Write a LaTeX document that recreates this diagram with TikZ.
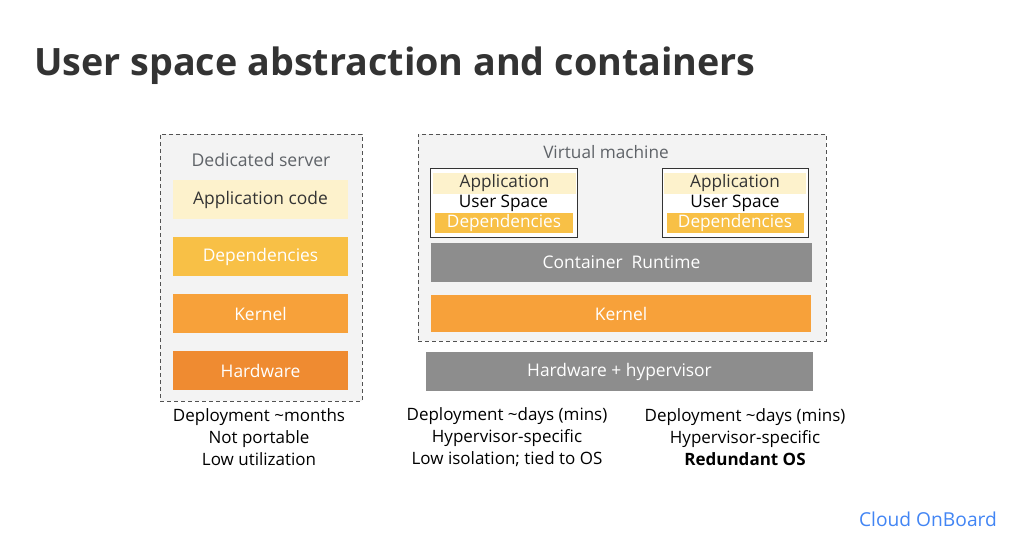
\documentclass[tikz,border=0pt]{standalone}
\usepackage{fontspec}
\setmainfont{Open Sans}
\newfontfamily\titlefont{Open Sans}
\usetikzlibrary{positioning}
\definecolor{ink}{HTML}{333333}
\definecolor{labelgray}{HTML}{5F6368}
\definecolor{panel}{HTML}{F3F3F3}
\definecolor{cream}{HTML}{FDF2CC}
\definecolor{amber}{HTML}{F8C046}
\definecolor{orangeA}{HTML}{F7A13A}
\definecolor{orangeB}{HTML}{EF8B31}
\definecolor{slate}{HTML}{8D8D8D}
\definecolor{gblue}{HTML}{4285F4}
\tikzset{
  layer/.style={rectangle, inner sep=0pt, draw=none, font=\fontsize{17.4}{20}\selectfont},
  frame/.style={rectangle, inner sep=0pt, draw=ink!85, fill=panel, line width=0.9pt, dash pattern=on 4pt off 3pt},
  cbox/.style={rectangle, inner sep=0pt, draw=ink, fill=white, line width=0.8pt},
  band/.style={rectangle, inner sep=0pt, font=\fontsize{17.2}{20}\selectfont},
  note/.style={align=center, text=black, font=\fontsize{17}{22}\selectfont},
}
\begin{document}
\begin{tikzpicture}[x=1pt,y=-1pt]
\useasboundingbox[fill=white] (0,0) rectangle (1016,551);

% title
\node[anchor=base west, inner sep=0pt, text=ink, font=\titlefont\bfseries\fontsize{37.7}{42}\selectfont] (title) at (34,75) {User space abstraction and containers};

% dedicated server column
\node[frame, minimum width=202pt, minimum height=267pt] (ds) at (261,267.5) {};
\node[text=labelgray, font=\fontsize{17.6}{20}\selectfont] (dslabel) at (261,160) {Dedicated server};
\node[layer, fill=cream, text=ink, minimum width=175pt, minimum height=39pt] (appcode) at (260.5,199.5) {Application code};
\node[layer, fill=amber, text=white, minimum width=175pt, minimum height=39pt] (deps) at (260.5,256.5) {Dependencies};
\node[layer, fill=orangeA, text=white, minimum width=175pt, minimum height=39pt] (kern) at (260.5,313.5) {Kernel};
\node[layer, fill=orangeB, text=white, minimum width=175pt, minimum height=39pt] (hw) at (260.5,370.5) {Hardware};

% virtual machine column
\node[frame, minimum width=408pt, minimum height=207pt] (vm) at (622,237.5) {};
\node[text=labelgray, font=\fontsize{17.2}{20}\selectfont] (vmlabel) at (606,152) {Virtual machine};

% container A
\node[cbox, minimum width=147pt, minimum height=69pt] (ca) at (503.5,202.5) {};
\node[band, fill=cream, text=ink, minimum width=143pt, minimum height=21pt] (caapp) at (504.5,183) {Application};
\node[band, text=black] (causer) at (503.5,203) {User Space};
\node[band, fill=amber, text=white, minimum width=138pt, minimum height=20pt] (cadeps) at (504,223) {Dependencies};

% container B
\node[cbox, minimum width=146pt, minimum height=69pt] (cb) at (735,202.5) {};
\node[band, fill=cream, text=ink, minimum width=142pt, minimum height=21pt] (cbapp) at (735,183) {Application};
\node[band, text=black] (cbuser) at (735,203) {User Space};
\node[band, fill=amber, text=white, minimum width=137pt, minimum height=20pt] (cbdeps) at (735,223) {Dependencies};

\node[layer, fill=slate, text=white, minimum width=381pt, minimum height=39pt] (runtime) at (621.5,262.5) {Container\ \ Runtime};
\node[layer, fill=orangeA, text=white, minimum width=380pt, minimum height=37pt] (vmkern) at (621,313.5) {Kernel};
\node[layer, fill=slate, text=white, minimum width=387pt, minimum height=39pt] (hyp) at (619.5,371.5) {Hardware + hypervisor};

% notes under each stack
\node[note] (n1) at (259,437) {Deployment \textasciitilde months\\Not portable\\Low utilization};
\node[note] (n2) at (507,437) {Deployment \textasciitilde days (mins)\\Hypervisor-specific\\Low isolation; tied to OS};
\node[note] (n3) at (745,437) {Deployment \textasciitilde days (mins)\\Hypervisor-specific\\\textbf{Redundant OS}};

% footer
\node[text=gblue, font=\fontsize{19.2}{22}\selectfont] (brand) at (928,519) {Cloud OnBoard};
\end{tikzpicture}
\end{document}
